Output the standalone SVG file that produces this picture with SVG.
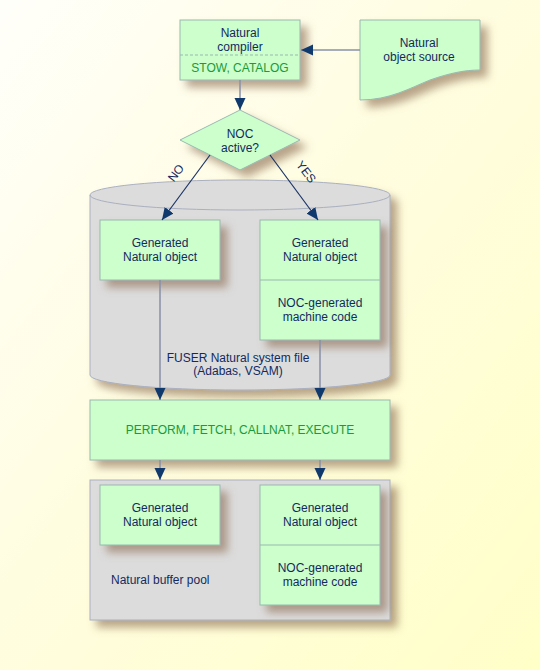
<svg xmlns="http://www.w3.org/2000/svg" width="540" height="670" viewBox="0 0 540 670">
<defs>
<linearGradient id="bg" x1="0" y1="0" x2="1" y2="1">
<stop offset="0" stop-color="#fffffa"/>
<stop offset="0.45" stop-color="#fffde0"/>
<stop offset="1" stop-color="#ffffc8"/>
</linearGradient>
<filter id="sh" x="-20%" y="-20%" width="150%" height="150%">
<feDropShadow dx="7" dy="7" stdDeviation="4.5" flood-color="#8a6a50" flood-opacity="0.6"/>
</filter>
<marker id="ah" viewBox="0 0 12 12" refX="12" refY="6" markerWidth="12" markerHeight="12" markerUnits="userSpaceOnUse" orient="auto">
<path d="M0,0.5 L12,6 L0,11.5 z" fill="#103a6e"/>
</marker>
<style>
.box{fill:#ccffcc;stroke:#99b8b0;stroke-width:1}
.gray{fill:#dcdcdc;stroke:#aab0c0;stroke-width:1}
.t{font-family:"Liberation Sans",Arial,sans-serif;font-size:12px;fill:#132a60;text-anchor:middle}
.g{fill:#1a9a3a}
.ln{stroke:#8890a8;stroke-width:1.5;fill:none;marker-end:url(#ah)}
.dk{stroke:#1a3366;stroke-width:1.2;fill:none;marker-end:url(#ah)}
.div{stroke:#99b8b0;stroke-width:1}
</style>
</defs>
<rect width="540" height="670" fill="url(#bg)"/>

<g id="compiler">
<rect class="box" x="180" y="20" width="120" height="60" filter="url(#sh)"/>
<line x1="180" y1="55" x2="300" y2="55" stroke="#99b8b0" stroke-dasharray="3,2"/>
<text class="t" x="240" y="37">Natural</text>
<text class="t" x="240" y="51">compiler</text>
<text class="t g" x="240" y="72">STOW, CATALOG</text>
</g>

<g id="source">
<path class="box" d="M360,20 H480 V70 C465,70 450,73 430,80 C410,88 390,100 360,100 Z" filter="url(#sh)"/>
<text class="t" x="419" y="47">Natural</text>
<text class="t" x="419" y="61">object source</text>
</g>

<g id="decision">
<path class="box" d="M240,110 L300,140 L240,170 L180,140 Z" filter="url(#sh)"/>
<text class="t" x="240" y="138">NOC</text>
<text class="t" x="240" y="152">active?</text>
</g>

<g id="fuser">
<path class="gray" d="M90,195 V375 A150,15 0 0 0 390,375 V195 A150,15 0 0 0 90,195 Z" filter="url(#sh)"/>
<path d="M90,195 A150,15 0 0 0 390,195" fill="none" stroke="#aab0c0"/>
<text class="t" x="238" y="362">FUSER Natural system file</text>
<text class="t" x="238" y="375">(Adabas, VSAM)</text>
</g>

<g id="gen1">
<rect class="box" x="100" y="220" width="120" height="60" filter="url(#sh)"/>
<text class="t" x="160" y="247">Generated</text>
<text class="t" x="160" y="261">Natural object</text>
</g>

<g id="gen2">
<rect class="box" x="260" y="220" width="120" height="120" filter="url(#sh)"/>
<line class="div" x1="260" y1="280" x2="380" y2="280"/>
<text class="t" x="320" y="247">Generated</text>
<text class="t" x="320" y="261">Natural object</text>
<text class="t" x="320" y="307">NOC-generated</text>
<text class="t" x="320" y="321">machine code</text>
</g>

<g id="perform">
<rect class="box" x="90" y="400" width="300" height="60" filter="url(#sh)"/>
<text class="t g" x="240" y="434">PERFORM, FETCH, CALLNAT, EXECUTE</text>
</g>

<g id="bufferpool">
<rect class="gray" x="90" y="480" width="300" height="140" filter="url(#sh)"/>
<text class="t" x="111" y="584" style="text-anchor:start">Natural buffer pool</text>
</g>

<g id="gen3">
<rect class="box" x="100" y="485" width="120" height="60" filter="url(#sh)"/>
<text class="t" x="160" y="512">Generated</text>
<text class="t" x="160" y="526">Natural object</text>
</g>

<g id="gen4">
<rect class="box" x="260" y="485" width="120" height="120" filter="url(#sh)"/>
<line class="div" x1="260" y1="545" x2="380" y2="545"/>
<text class="t" x="320" y="512">Generated</text>
<text class="t" x="320" y="526">Natural object</text>
<text class="t" x="320" y="572">NOC-generated</text>
<text class="t" x="320" y="586">machine code</text>
</g>

<g id="connectors">
<line class="ln" x1="360" y1="50" x2="301" y2="50"/>
<line class="ln" x1="240" y1="80" x2="240" y2="110"/>
<line class="dk" x1="210" y1="155" x2="162" y2="220"/>
<line class="dk" x1="270" y1="155" x2="318" y2="220"/>
<text class="t" x="176" y="177" transform="rotate(-53 176 173)">NO</text>
<text class="t" x="306" y="176" transform="rotate(53 306 172)">YES</text>
<line class="ln" x1="160" y1="280" x2="160" y2="400"/>
<line class="ln" x1="320" y1="340" x2="320" y2="400"/>
<line class="ln" x1="160" y1="460" x2="160" y2="480"/>
<line class="ln" x1="320" y1="460" x2="320" y2="480"/>
</g>
</svg>
